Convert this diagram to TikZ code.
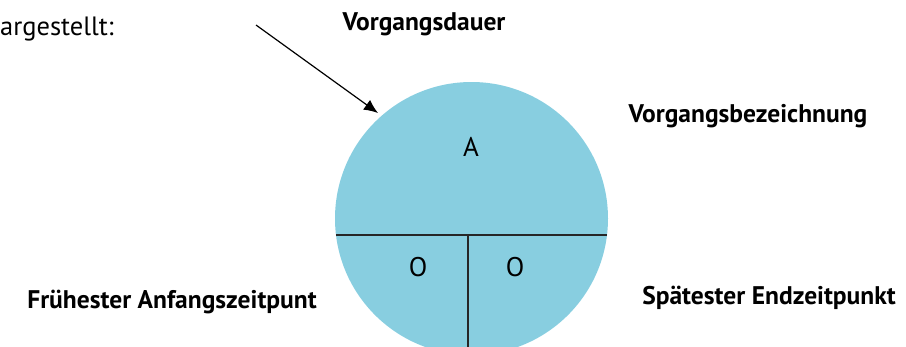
\documentclass[tikz,border=0pt]{standalone}
\usepackage{fontspec}
\setmainfont{PT Sans}
\usetikzlibrary{arrows.meta}
\definecolor{disc}{RGB}{136,206,224}
\begin{document}
\begin{tikzpicture}[x=1pt,y=-1pt,
  lbl/.style={font=\fontsize{25.5}{30}\selectfont\bfseries, inner sep=0pt},
  val/.style={font=\fontsize{27}{30}\selectfont, inner sep=0pt},
  sep/.style={draw=black!85, line width=1.2pt}]
\useasboundingbox (0,0) rectangle (906,346);
\node[circle, fill=disc, minimum size=273pt, inner sep=0pt] (c) at (471.5,218.5) {};
\coordinate (hl) at (336,235);
\coordinate (hr) at (607,235);
\coordinate (vt) at (468,235);
\coordinate (vb) at (468,355);
\draw[sep] (hl) -- (hr);
\draw[sep] (vt) -- (vb);
\node[val] (a) at (471,146.5) {A};
\node[val] (o1) at (418,267) {O};
\node[val] (o2) at (515,267) {O};
\node[val, font=\fontsize{26.5}{30}\selectfont, anchor=base west] (t) at (0,35) {argestellt:};
\node[lbl] (vd) at (424,24) {Vorgangsdauer};
\node[lbl] (vb2) at (748,116) {Vorgangsbezeichnung};
\node[lbl] (fa) at (172,302) {Frühester Anfangszeitpunt};
\node[lbl] (se) at (769,298) {Spätester Endzeitpunkt};
\coordinate (as) at (256,25);
\coordinate (ae) at (378,113);
\draw[line width=1.2pt, -{Latex[length=14pt,width=12pt]}] (as) -- (ae);
\end{tikzpicture}
\end{document}
